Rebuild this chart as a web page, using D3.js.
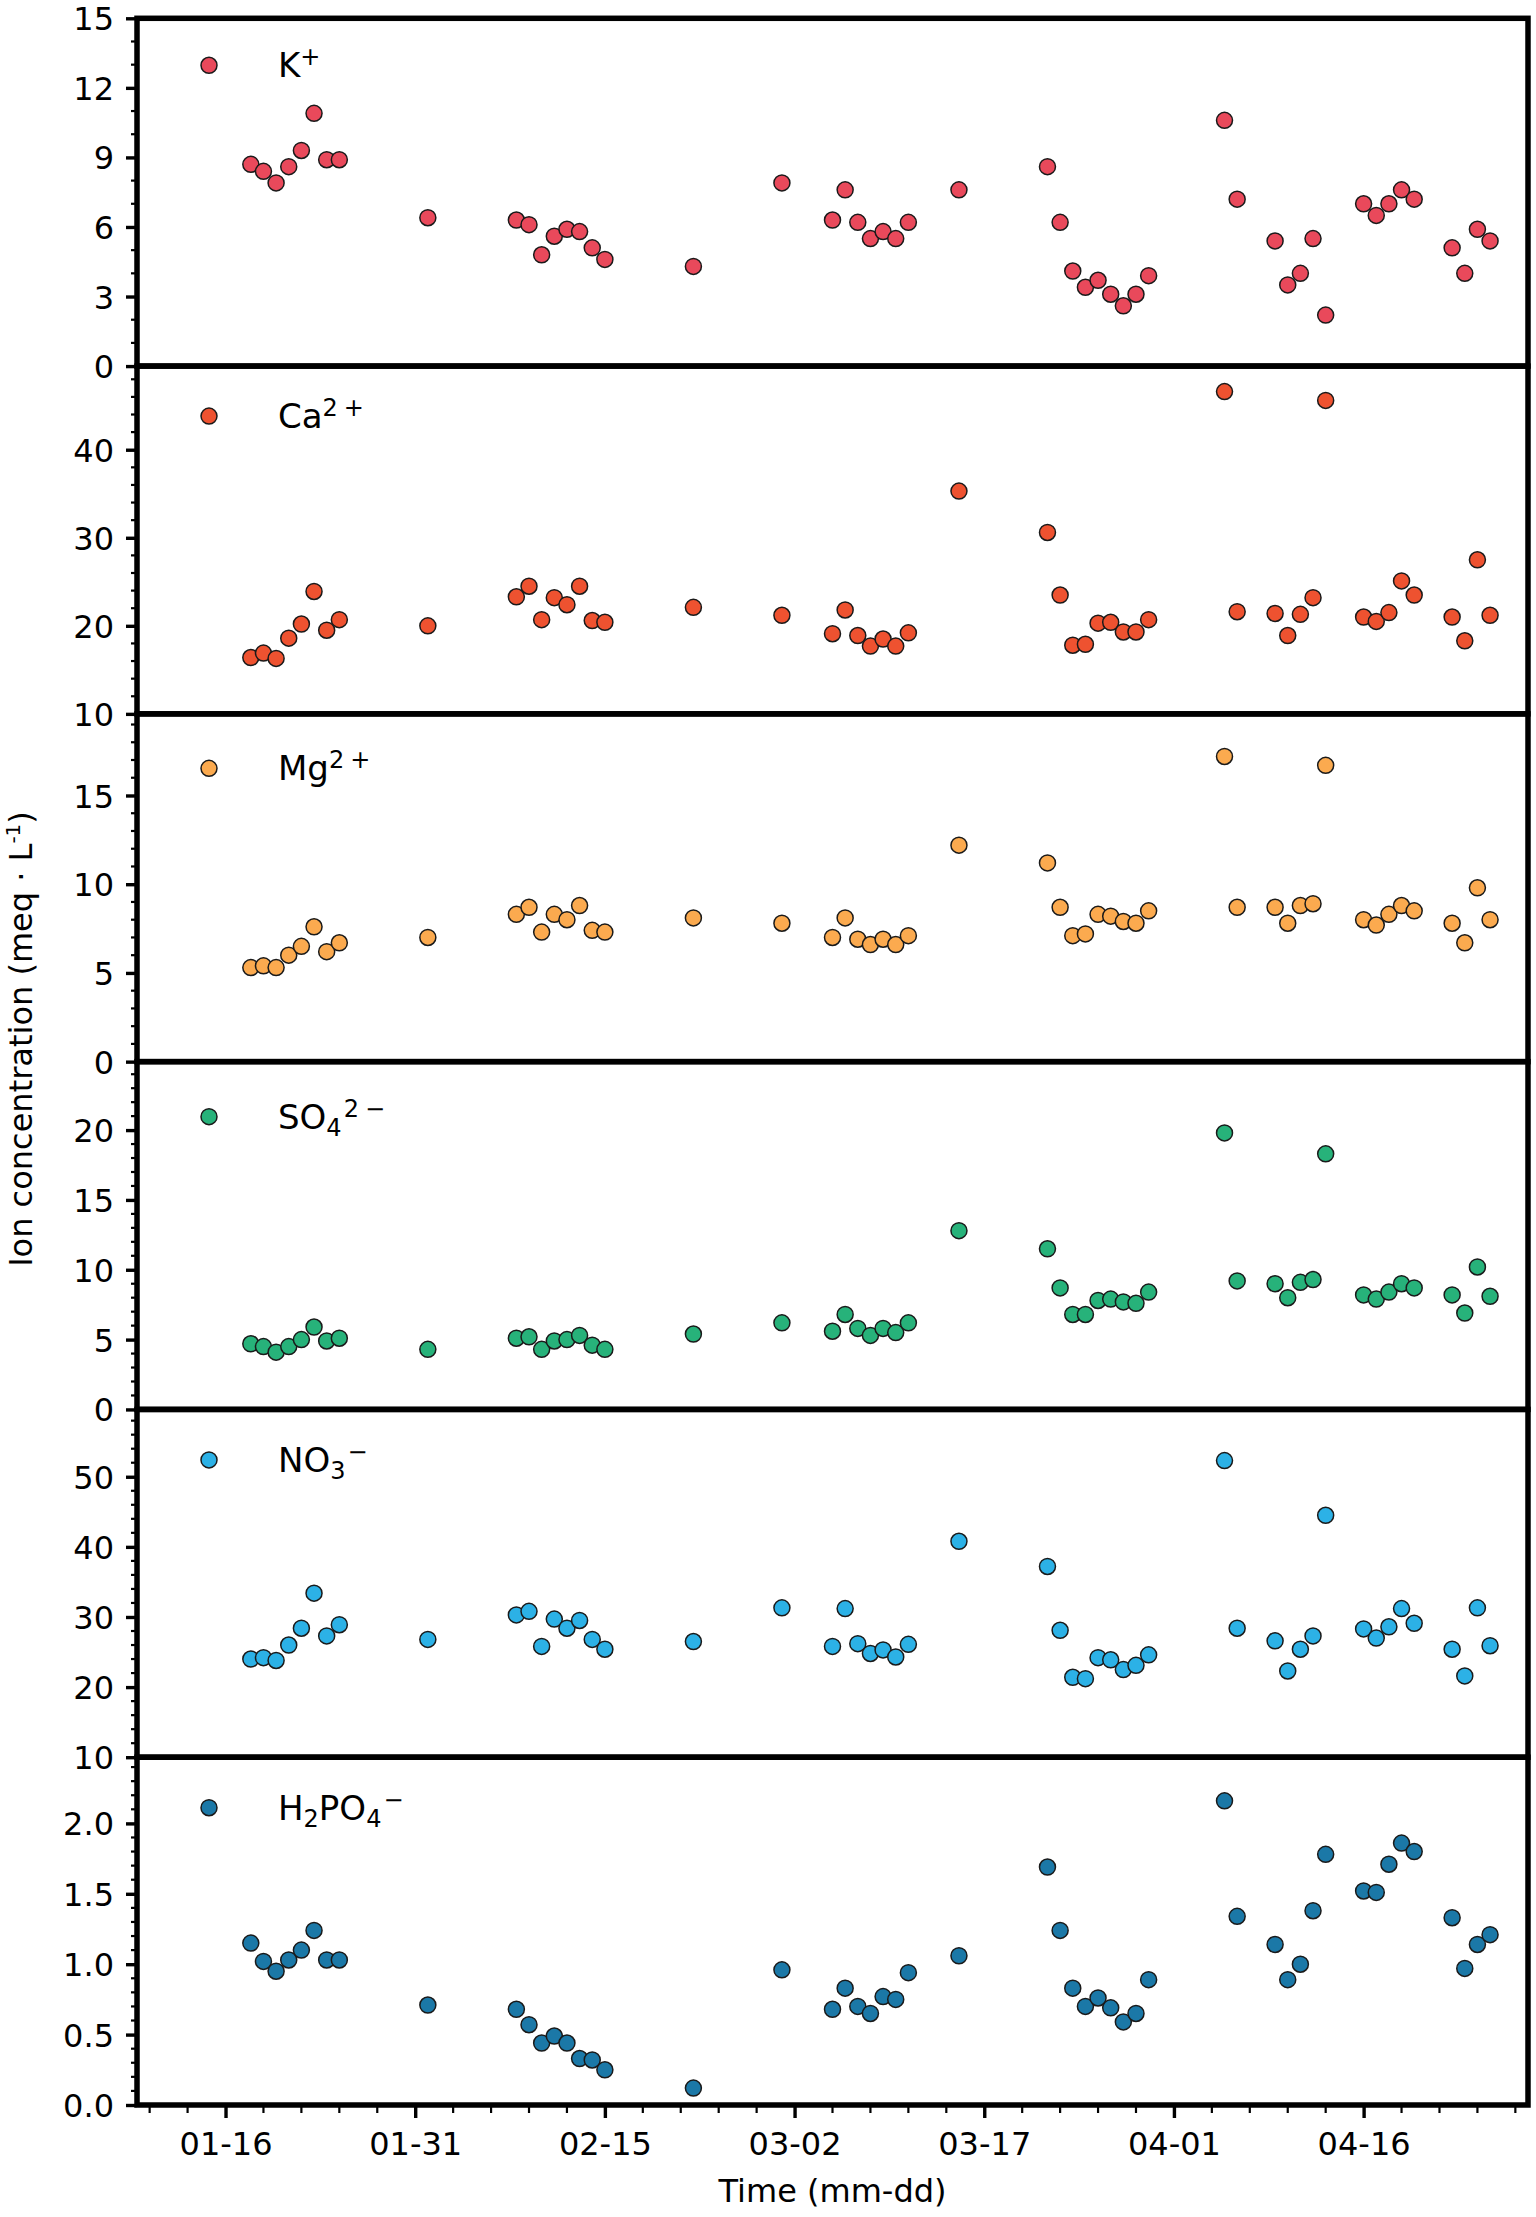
<!DOCTYPE html>
<html><head><meta charset="utf-8">
<script src="https://cdn.jsdelivr.net/npm/d3@7"></script>
<style>
body{margin:0;background:#fff}
text{font-family:"DejaVu Sans",sans-serif;fill:#000}
</style>
</head><body>
<svg id="chart" width="1536" height="2217"></svg>
<script>
// ---------------- DATA ----------------
const dates = [
 "2023-01-18","2023-01-19","2023-01-20","2023-01-21","2023-01-22","2023-01-23","2023-01-24","2023-01-25",
 "2023-02-01",
 "2023-02-08","2023-02-09","2023-02-10","2023-02-11","2023-02-12","2023-02-13","2023-02-14","2023-02-15",
 "2023-02-22",
 "2023-03-01",
 "2023-03-05","2023-03-06","2023-03-07","2023-03-08","2023-03-09","2023-03-10","2023-03-11",
 "2023-03-15",
 "2023-03-22","2023-03-23","2023-03-24","2023-03-25","2023-03-26","2023-03-27","2023-03-28","2023-03-29","2023-03-30",
 "2023-04-05","2023-04-06",
 "2023-04-09","2023-04-10","2023-04-11","2023-04-12","2023-04-13",
 "2023-04-16","2023-04-17","2023-04-18","2023-04-19","2023-04-20",
 "2023-04-23","2023-04-24","2023-04-25","2023-04-26"
];
const kValues = [8.7,8.4,7.9,8.6,9.3,10.9,8.9,8.9, 6.4, 6.3,6.1,4.8,5.6,5.9,5.8,5.1,4.6, 4.3, 7.9,
 6.3,7.6,6.2,5.5,5.8,5.5,6.2, 7.6, 8.6,6.2,4.1,3.4,3.7,3.1,2.6,3.1,3.9, 10.6,7.2,
 5.4,3.5,4.0,5.5,2.2, 7.0,6.5,7.0,7.6,7.2, 5.1,4.0,5.9,5.4];
const caValues = [16.4,16.9,16.3,18.6,20.2,23.9,19.5,20.7, 20.0, 23.3,24.5,20.7,23.2,22.4,24.5,20.6,20.4, 22.1, 21.2,
 19.1,21.8,18.9,17.7,18.5,17.7,19.2, 35.3, 30.6,23.5,17.8,17.9,20.3,20.4,19.3,19.3,20.7, 46.6,21.6,
 21.4,18.9,21.3,23.2,45.6, 21.0,20.5,21.5,25.1,23.5, 21.0,18.3,27.5,21.2];
const mgValues = [5.3,5.4,5.3,6.0,6.5,7.6,6.2,6.7, 7.0, 8.3,8.7,7.3,8.3,8.0,8.8,7.4,7.3, 8.1, 7.8,
 7.0,8.1,6.9,6.6,6.9,6.6,7.1, 12.2, 11.2,8.7,7.1,7.2,8.3,8.2,7.9,7.8,8.5, 17.2,8.7,
 8.7,7.8,8.8,8.9,16.7, 8.0,7.7,8.3,8.8,8.5, 7.8,6.7,9.8,8.0];
const so4Values = [4.7,4.5,4.1,4.5,5.0,5.9,4.9,5.1, 4.3, 5.1,5.2,4.3,4.9,5.0,5.3,4.6,4.3, 5.4, 6.2,
 5.6,6.8,5.8,5.3,5.8,5.5,6.2, 12.8, 11.5,8.7,6.8,6.8,7.8,7.9,7.7,7.6,8.4, 19.8,9.2,
 9.0,8.0,9.1,9.3,18.3, 8.2,7.9,8.4,9.0,8.7, 8.2,6.9,10.2,8.1];
const no3Values = [24.0,24.2,23.8,26.0,28.4,33.4,27.3,28.9, 26.8, 30.3,30.8,25.8,29.7,28.4,29.5,26.8,25.4, 26.5, 31.3,
 25.8,31.2,26.2,24.8,25.3,24.3,26.1, 40.8, 37.2,28.1,21.4,21.2,24.2,23.9,22.5,23.1,24.6, 52.3,28.4,
 26.6,22.3,25.4,27.3,44.5, 28.3,27.0,28.6,31.2,29.1, 25.4,21.6,31.3,25.9];
const h2po4Values = [1.15,1.02,0.95,1.03,1.10,1.24,1.03,1.03, 0.71, 0.68,0.57,0.44,0.49,0.44,0.33,0.32,0.25, 0.12, 0.96,
 0.68,0.83,0.70,0.65,0.77,0.75,0.94, 1.06, 1.69,1.24,0.83,0.70,0.76,0.69,0.59,0.65,0.89, 2.16,1.34,
 1.14,0.89,1.00,1.38,1.78, 1.52,1.51,1.71,1.86,1.80, 1.33,0.97,1.14,1.21];

const seriesNames = ["K+","Ca2+","Mg2+","SO42-","NO3-","H2PO4-"];
const seriesValues = [kValues, caValues, mgValues, so4Values, no3Values, h2po4Values];
// legend label pieces: [text, mode] mode: n normal, u superscript, u2 spaced superscript, d subscript
const legendLabels = [
  [["K","n"],["+","u"]],
  [["Ca","n"],["2","u"],["+","u2"]],
  [["Mg","n"],["2","u"],["+","u2"]],
  [["SO","n"],["4","d"],["2","u"],["\u2212","u2"]],
  [["NO","n"],["3","d"],["\u2212","u"]],
  [["H","n"],["2","d"],["PO","n"],["4","d"],["\u2212","u"]]
];
const yDomains = [[0,15],[10,49.5],[0,19.6],[0,24.9],[10,59.6],[0,2.47]];
const yMajorTicks = [[0,3,6,9,12,15],[10,20,30,40],[0,5,10,15],[0,5,10,15,20],[10,20,30,40,50],[0,0.5,1.0,1.5,2.0]];
const yMinorStep = [1,2,1,1,2,0.1];
const yTickFormat = ["d","d","d","d","d",".1f"];
const xTickLabels = ["01-16","01-31","02-15","03-02","03-17","04-01","04-16"];
const xDomain = ["2023-01-09","2023-04-29"];
const xTitle = "Time (mm-dd)";
const yTitle = "Ion concentration (meq \u00B7 L";

// ---------------- STYLE / LAYOUT ----------------
const colors = ["#e9495b","#ee5230","#fbaa4f","#27b27a","#2cb1e6","#1b78a7"];
const legendOffsets = [47,50,54.5,55,50.5,50.5];
const W = 1536, H = 2217;
const plotLeft = 137, plotRight = 1528, plotTop = 18.3, plotBottom = 2105;
const panelH = (plotBottom - plotTop) / 6;
const fontSize = 32;
const legendFont = 34, scriptFont = 24;
const markerR = 8;

const parse = d3.timeParse("%Y-%m-%d");
const svg = d3.select("#chart");
svg.append("rect").attr("width",W).attr("height",H).attr("fill","#fff");

const x = d3.scaleTime().domain(xDomain.map(parse)).range([plotLeft, plotRight]);
const xDates = dates.map(parse);

seriesValues.forEach((vals, i) => {
  const y0 = plotTop + i*panelH, y1 = y0 + panelH;
  const y = d3.scaleLinear().domain(yDomains[i]).range([y1, y0]);
  const g = svg.append("g");

  // minor ticks
  const dom = yDomains[i], st = yMinorStep[i];
  const minors = [];
  for (let k = Math.ceil(dom[0]/st - 1e-9); k*st <= dom[1] + 1e-9; k++) {
    const v = +(k*st).toFixed(6);
    if (!yMajorTicks[i].some(m => Math.abs(m - v) < 1e-6)) minors.push(v);
  }
  g.selectAll(".ymin").data(minors).enter().append("line")
    .attr("x1", plotLeft - 6).attr("x2", plotLeft).attr("y1", d => y(d)).attr("y2", d => y(d))
    .attr("stroke","#000").attr("stroke-width",2.2);
  // major ticks via axis
  const axis = d3.axisLeft(y).tickValues(yMajorTicks[i]).tickSize(11).tickPadding(12)
     .tickFormat(d3.format(yTickFormat[i]));
  const ag = g.append("g").attr("transform",`translate(${plotLeft},0)`).call(axis);
  ag.select(".domain").remove();
  ag.selectAll(".tick line").attr("stroke","#000").attr("stroke-width",3.4);
  ag.selectAll(".tick text").attr("font-size",fontSize).attr("font-family","DejaVu Sans").attr("dy","0.36em");

  // points
  g.selectAll("circle.pt").data(vals).enter().append("circle")
    .attr("cx", (d,j) => x(xDates[j])).attr("cy", d => y(d)).attr("r", markerR)
    .attr("fill", colors[i]).attr("stroke","#1a1a1a").attr("stroke-width",1.5);

  // legend
  const ly = y0 + legendOffsets[i];
  g.append("circle").attr("cx",209).attr("cy",ly).attr("r",markerR)
    .attr("fill",colors[i]).attr("stroke","#1a1a1a").attr("stroke-width",1.5);
  const t = g.append("text").attr("x",278).attr("y",ly+12).attr("font-size",legendFont);
  let cur = 0, prevMode = "n";
  legendLabels[i].forEach(([txt, mode]) => {
    const ts = t.append("tspan").text(txt);
    let target = 0;
    if (mode === "u" || mode === "u2") { target = -12; ts.attr("font-size", scriptFont); }
    if (mode === "d") { target = 7; ts.attr("font-size", scriptFont); }
    ts.attr("dy", target - cur);
    if (mode === "u2") ts.attr("dx", 6);
    else if (mode === "u" && prevMode === "d") ts.attr("dx", 2);
    cur = target; prevMode = mode;
  });

  // frame
  g.append("rect").attr("x",plotLeft).attr("y",y0).attr("width",plotRight-plotLeft).attr("height",panelH)
    .attr("fill","none").attr("stroke","#000").attr("stroke-width",5.5);
});

// x axis on bottom panel
const xMinor = [];
const base = parse("2023-01-16");
for (let k = -3; k <= 34; k++) {
  const d = d3.timeDay.offset(base, 3*k);
  if (d > x.domain()[0] && d < x.domain()[1] && k % 5 !== 0) xMinor.push(d);
}
svg.selectAll(".xmin").data(xMinor).enter().append("line")
  .attr("x1", d => x(d)).attr("x2", d => x(d)).attr("y1", plotBottom).attr("y2", plotBottom + 8)
  .attr("stroke","#000").attr("stroke-width",2.2);
const xMajor = xTickLabels.map(s => parse("2023-" + s));
const xa = d3.axisBottom(x).tickValues(xMajor).tickSize(13).tickPadding(14)
  .tickFormat((d,j) => xTickLabels[j]);
const xg = svg.append("g").attr("transform",`translate(0,${plotBottom})`).call(xa);
xg.select(".domain").remove();
xg.selectAll(".tick line").attr("stroke","#000").attr("stroke-width",3.4);
xg.selectAll(".tick text").attr("font-size",fontSize).attr("font-family","DejaVu Sans");

// axis titles
svg.append("text").attr("x",(plotLeft+plotRight)/2).attr("y",2202).attr("text-anchor","middle")
  .attr("font-size",fontSize).text(xTitle);
const yt = svg.append("text").attr("transform","translate(32,1039) rotate(-90)")
  .attr("text-anchor","middle").attr("font-size",fontSize);
yt.append("tspan").text(yTitle);
yt.append("tspan").attr("font-size",20).attr("dy",-12).text("-1");
yt.append("tspan").attr("dy",12).text(")");
</script>
</body></html>
